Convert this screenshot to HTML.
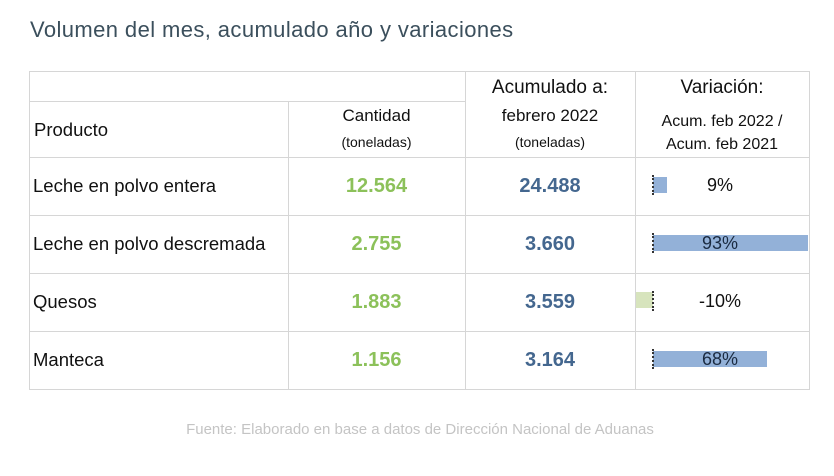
<!DOCTYPE html>
<html><head><meta charset="utf-8"><style>
body{margin:0;width:834px;height:476px;background:#fff;position:relative;overflow:hidden;font-family:"Liberation Sans",sans-serif}
.t{position:absolute;white-space:nowrap;color:#111}
.c{text-align:center}
.h{position:absolute;height:1px;background:#d6d6d6}
.v{position:absolute;width:1px;background:#d6d6d6}
.bar{position:absolute;background:#93b1d8}
.ax{position:absolute;width:0;border-left:2px dotted #333}
.g{color:#8cc15a;font-weight:bold;font-size:20px}
.b{color:#44678f;font-weight:bold;font-size:20px}
.r{font-size:18.5px}
</style></head><body>
<div class="t" style="left:30px;top:17px;font-size:22px;letter-spacing:0.4px;color:#3b4f5c">Volumen del mes, acumulado año y variaciones</div>

<div class="h" style="left:29px;top:71px;width:781px"></div>
<div class="h" style="left:29px;top:101px;width:436px"></div>
<div class="h" style="left:29px;top:157px;width:781px"></div>
<div class="h" style="left:29px;top:215px;width:781px"></div>
<div class="h" style="left:29px;top:273px;width:781px"></div>
<div class="h" style="left:29px;top:331px;width:781px"></div>
<div class="h" style="left:29px;top:389px;width:781px"></div>
<div class="v" style="left:29px;top:71px;height:319px"></div>
<div class="v" style="left:288px;top:101px;height:289px"></div>
<div class="v" style="left:465px;top:71px;height:319px"></div>
<div class="v" style="left:635px;top:71px;height:319px"></div>
<div class="v" style="left:809px;top:71px;height:319px"></div>

<div class="t r" style="left:34px;top:119px">Producto</div>
<div class="t c" style="left:288px;width:177px;top:106px;font-size:17px">Cantidad</div>
<div class="t c" style="left:288px;width:177px;top:134px;font-size:14px">(toneladas)</div>
<div class="t c" style="left:465px;width:170px;top:77px;font-size:19px">Acumulado a:</div>
<div class="t c" style="left:465px;width:170px;top:106px;font-size:17px">febrero 2022</div>
<div class="t c" style="left:465px;width:170px;top:134px;font-size:14px">(toneladas)</div>
<div class="t c" style="left:635px;width:174px;top:77px;font-size:19px">Variación:</div>
<div class="t c" style="left:635px;width:174px;top:113px;font-size:16px">Acum. feb 2022 /</div>
<div class="t c" style="left:635px;width:174px;top:136px;font-size:16px">Acum. feb 2021</div>

<div class="t r" style="left:33px;top:175px">Leche en polvo entera</div>
<div class="t r" style="left:33px;top:233px">Leche en polvo descremada</div>
<div class="t r" style="left:33px;top:291px">Quesos</div>
<div class="t r" style="left:33px;top:349px">Manteca</div>

<div class="t c g" style="left:288px;width:177px;top:175px">12.564</div>
<div class="t c g" style="left:288px;width:177px;top:233px">2.755</div>
<div class="t c g" style="left:288px;width:177px;top:291px">1.883</div>
<div class="t c g" style="left:288px;width:177px;top:349px">1.156</div>
<div class="t c b" style="left:465px;width:170px;top:175px">24.488</div>
<div class="t c b" style="left:465px;width:170px;top:233px">3.660</div>
<div class="t c b" style="left:465px;width:170px;top:291px">3.559</div>
<div class="t c b" style="left:465px;width:170px;top:349px">3.164</div>

<div class="bar" style="left:653px;top:177px;width:14px;height:16px"></div>
<div class="bar" style="left:653px;top:235px;width:155px;height:16px"></div>
<div class="bar" style="left:636px;top:292px;width:17px;height:16px;background:#d7e4bd"></div>
<div class="bar" style="left:653px;top:351px;width:114px;height:16px"></div>
<div class="ax" style="left:652px;top:175px;height:20px"></div>
<div class="ax" style="left:652px;top:233px;height:20px"></div>
<div class="ax" style="left:652px;top:291px;height:20px"></div>
<div class="ax" style="left:652px;top:349px;height:20px"></div>

<div class="t c" style="left:670px;width:100px;top:175px;font-size:18px">9%</div>
<div class="t c" style="left:670px;width:100px;top:233px;font-size:18px;color:#1a2a40">93%</div>
<div class="t c" style="left:670px;width:100px;top:291px;font-size:18px">-10%</div>
<div class="t c" style="left:670px;width:100px;top:349px;font-size:18px;color:#1a2a40">68%</div>

<div class="t c" style="left:0;width:840px;top:421px;font-size:15px;color:#c4c4c4">Fuente: Elaborado en base a datos de Dirección Nacional de Aduanas</div>
</body></html>
